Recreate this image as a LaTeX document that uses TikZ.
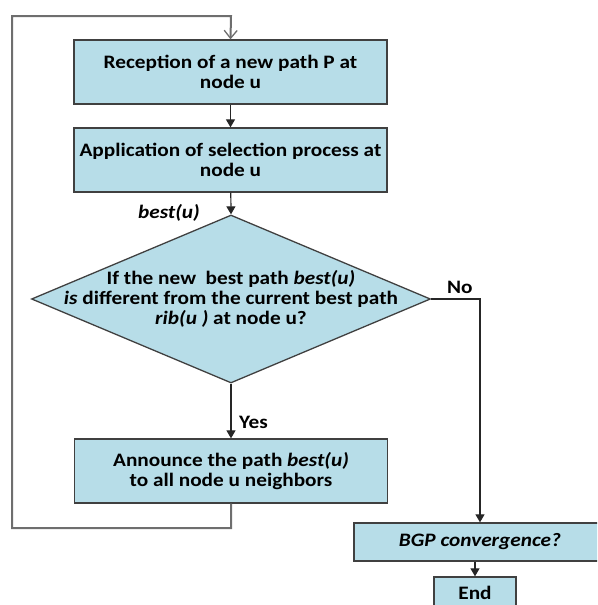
\documentclass[tikz,border=0pt]{standalone}
\usepackage{fontspec}
\setmainfont{Carlito}[FakeStretch=1.12]
\usetikzlibrary{arrows.meta,shapes.geometric}
\definecolor{boxfill}{HTML}{B7DDE8}
\definecolor{boxline}{HTML}{404040}
\definecolor{flowline}{HTML}{262626}
\definecolor{loopline}{HTML}{6E6E6E}
\begin{document}
\begin{tikzpicture}[x=1pt,y=-1pt,
  txt/.style={font=\bfseries\fontsize{19}{20}\selectfont},
  stepbox/.style={txt, draw=boxline, fill=boxfill, line width=1.3pt,
    inner sep=0pt, align=center, minimum width=313pt, minimum height=64pt},
  decision/.style={diamond, draw=boxline, fill=boxfill, line width=1.3pt,
    inner sep=0pt, minimum width=399pt, minimum height=168pt},
  flow/.style={draw=flowline, line width=1.2pt,
    -{Triangle[width=9pt,length=8pt]}},
  back/.style={draw=loopline, line width=2pt,
    -{Straight Barb[width=13pt,length=8pt,line width=1.3pt]}},
  lbl/.style={txt, inner sep=0pt}]
\useasboundingbox (0,0) rectangle (597,605);
\clip (0,0) rectangle (597,605);

% process steps
\node[stepbox] (rec) at (230.5,72) {Reception of a new path P at\\ node u};
\node[stepbox] (sel) at (230.5,160) {Application of selection process at\\ node u};
\node[decision] (dec) at (231,299) {};
\node[lbl, align=center] (dectext) at (231,299)
  {If the new\ \ best path \textit{best(u)}\\
   \textit{is} different from the current best path\\
   \textit{rib(u )} at node u?};
\node[stepbox] (ann) at (231,471) {Announce the path \textit{best(u)}\\ to all node u neighbors};
\node[stepbox, minimum width=252pt, minimum height=38pt] (bgp) at (480,542)
  {\textit{BGP convergence?}};
\node[stepbox, minimum width=82pt, minimum height=32pt] (end) at (475,593) {End};

% edge labels
\node[lbl, anchor=east] (bestlbl) at (200,213) {\textit{best(u)}};
\node[lbl, anchor=west] (yeslbl) at (239,422) {Yes};
\node[lbl, anchor=west] (nolbl) at (447,287) {No};

% connectors
\draw[flow] (rec) -- (sel);
\draw[flow] (sel) -- (dec.north);
\draw[flow] (dec.south) -- (ann);
\draw[flow] (dec.east) -| (bgp.north);
\draw[flow] (bgp.south -| end.north) -- (end.north);

% feedback loop
\coordinate (lb) at (231,528);
\coordinate (lbl) at (12,528);
\coordinate (ltl) at (12,16);
\coordinate (ltr) at (231,16);
\draw[back, line join=miter] (ann.south) -- (lb) -- (lbl) -- (ltl) -- (ltr) -- (rec.north);
\end{tikzpicture}
\end{document}
